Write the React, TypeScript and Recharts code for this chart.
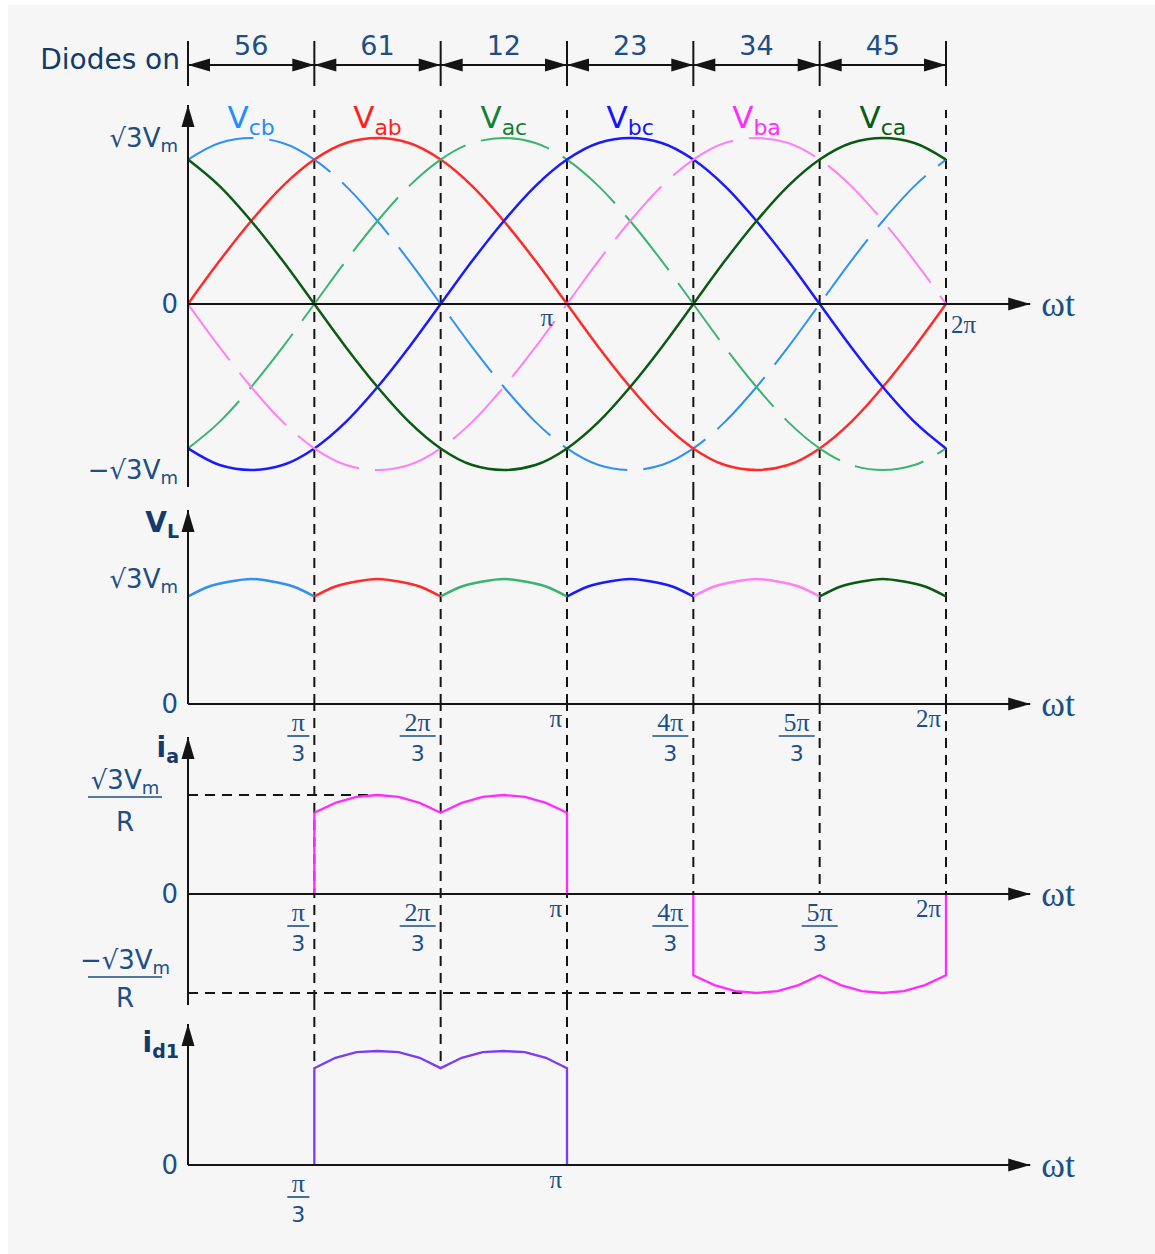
import React from 'react';
import { LineChart, Line, XAxis, YAxis, ReferenceLine, ReferenceDot } from 'recharts';

const W = 1155;
const H = 1254;
const PLOT_LEFT = 188;
const PLOT_RIGHT = 946;
const AXIS_W = 100;
const AXIS_END = 400; // arrow tip of the ωt axes, in degrees

const NAVY = '#1b4f86';
const DARK_NAVY = '#123a6c';
const INK = '#141414';
const SANS = '"DejaVu Sans", Verdana, sans-serif';
const SERIF = '"Liberation Serif", "DejaVu Serif", serif';

// conduction intervals (degrees of ωt) and the diode pair on in each
const intervalEdges = [0, 60, 120, 180, 240, 300, 360];
const diodePairs = ['56', '61', '12', '23', '34', '45'];

// line voltages, per unit of √3Vm, read every 15°
const phaseAngles = [0, 15, 30, 45, 60, 75, 90, 105, 120, 135, 150, 165, 180, 195, 210, 225, 240, 255, 270, 285, 300, 315, 330, 345, 360];
const vCb = [0.87, 0.97, 1, 0.97, 0.87, 0.71, 0.5, 0.26, 0, -0.26, -0.5, -0.71, -0.87, -0.97, -1, -0.97, -0.87, -0.71, -0.5, -0.26, 0, 0.26, 0.5, 0.71, 0.87];
const vAb = [0, 0.26, 0.5, 0.71, 0.87, 0.97, 1, 0.97, 0.87, 0.71, 0.5, 0.26, 0, -0.26, -0.5, -0.71, -0.87, -0.97, -1, -0.97, -0.87, -0.71, -0.5, -0.26, 0];
const vAc = [-0.87, -0.71, -0.5, -0.26, 0, 0.26, 0.5, 0.71, 0.87, 0.97, 1, 0.97, 0.87, 0.71, 0.5, 0.26, 0, -0.26, -0.5, -0.71, -0.87, -0.97, -1, -0.97, -0.87];
const vBc = [-0.87, -0.97, -1, -0.97, -0.87, -0.71, -0.5, -0.26, 0, 0.26, 0.5, 0.71, 0.87, 0.97, 1, 0.97, 0.87, 0.71, 0.5, 0.26, 0, -0.26, -0.5, -0.71, -0.87];
const vBa = [0, -0.26, -0.5, -0.71, -0.87, -0.97, -1, -0.97, -0.87, -0.71, -0.5, -0.26, 0, 0.26, 0.5, 0.71, 0.87, 0.97, 1, 0.97, 0.87, 0.71, 0.5, 0.26, 0];
const vCa = [0.87, 0.71, 0.5, 0.26, 0, -0.26, -0.5, -0.71, -0.87, -0.97, -1, -0.97, -0.87, -0.71, -0.5, -0.26, 0, 0.26, 0.5, 0.71, 0.87, 0.97, 1, 0.97, 0.87];
const voltageKeys = ['cb', 'ab', 'ac', 'bc', 'ba', 'ca'];
const voltageSeries = [vCb, vAb, vAc, vBc, vBa, vCa];
const voltagePeakAngles = [30, 90, 150, 210, 270, 330];

// load voltage vL, per unit of √3Vm, every 10°
const loadAngles = [0, 10, 20, 30, 40, 50, 60, 70, 80, 90, 100, 110, 120, 130, 140, 150, 160, 170, 180, 190, 200, 210, 220, 230, 240, 250, 260, 270, 280, 290, 300, 310, 320, 330, 340, 350, 360];
const loadValues = [
  0.86, 0.94, 0.98, 1, 0.98, 0.94,
  0.86, 0.94, 0.98, 1, 0.98, 0.94,
  0.86, 0.94, 0.98, 1, 0.98, 0.94,
  0.86, 0.94, 0.98, 1, 0.98, 0.94,
  0.86, 0.94, 0.98, 1, 0.98, 0.94,
  0.86, 0.94, 0.98, 1, 0.98, 0.94,
  0.86,
];

// phase current ia, per unit of √3Vm/R
const iaAngles = [60, 60, 70, 80, 90, 100, 110, 120, 130, 140, 150, 160, 170, 180, 180, 210, 240, 240, 250, 260, 270, 280, 290, 300, 310, 320, 330, 340, 350, 360, 360];
const iaValues = [0, 0.82, 0.92, 0.98, 1, 0.98, 0.92, 0.82, 0.92, 0.98, 1, 0.98, 0.92, 0.82, 0, null, 0, -0.82, -0.92, -0.98, -1, -0.98, -0.92, -0.82, -0.92, -0.98, -1, -0.98, -0.92, -0.82, 0];

// diode 1 current
const id1Angles = [60, 60, 70, 80, 90, 100, 110, 120, 130, 140, 150, 160, 170, 180, 180];
const id1Values = [0, 0.85, 0.94, 0.99, 1, 0.99, 0.94, 0.85, 0.94, 0.99, 1, 0.99, 0.94, 0.85, 0];

const piAngles = [60, 120, 180, 240, 300, 360];
const piLabels = ['π/3', '2π/3', 'π', '4π/3', '5π/3', '2π'];

// styles
const voltageColors = ['#2f90f5', '#ff2a2a', '#3cb371', '#1a1aff', '#ff80f0', '#0b5a14'];
const voltageLabelColors = ['#1e8fff', '#ff1f1f', '#16803a', '#1414ff', '#ff2cff', '#0b5a14'];
const voltageDashed = [true, false, true, false, true, false];
const IA_COLOR = '#ff2bff';
const ID1_COLOR = '#7a3cf6';

const voltageTable = phaseAngles.map((deg, i) => {
  const row: Record<string, number> = { deg };
  voltageKeys.forEach((k, j) => {
    row[k] = voltageSeries[j][i];
  });
  return row;
});
const loadSegments = diodePairs.map((_, i) =>
  loadAngles
    .map((deg, j) => ({ deg, v: loadValues[j] }))
    .filter((p) => p.deg >= intervalEdges[i] && p.deg <= intervalEdges[i + 1])
);
const iaData = iaAngles.map((deg, i) => ({ deg, v: iaValues[i] }));
const id1Data = id1Angles.map((deg, i) => ({ deg, v: id1Values[i] }));

type Frame = { zero: number; unit: number; top: number; bottom: number; axisTop: number; axisBottom: number };

// pixel placement of each panel: zero line, px per unit, slice of the page
const vFrame: Frame = { zero: 304, unit: 166, top: 110, bottom: 492, axisTop: 105, axisBottom: 487 };
const vlFrame: Frame = { zero: 704, unit: 125, top: 492, bottom: 704, axisTop: 510, axisBottom: 704 };
const iaFrame: Frame = { zero: 894, unit: 99, top: 704, bottom: 1000, axisTop: 737, axisBottom: 1005 };
const idFrame: Frame = { zero: 1165, unit: 114, top: 1000, bottom: 1165, axisTop: 1024, axisBottom: 1165 };
// header row, drawn in the line-voltage panel
const HEAD_TOP = 41;
const HEAD_BOTTOM = 86;
const HEAD_ARROW = 65;

const val = (f: Frame, px: number) => (f.zero - px) / f.unit;

const head = (x: number, y: number, ux: number, uy: number, len = 22, half = 6.5) => {
  const bx = x - ux * len;
  const by = y - uy * len;
  return `${x},${y} ${bx - uy * half},${by + ux * half} ${bx + uy * half},${by - ux * half}`;
};

const arrow = (double: boolean) => (p: any) => {
  const { x1, y1, x2, y2 } = p;
  const len = Math.hypot(x2 - x1, y2 - y1) || 1;
  const ux = (x2 - x1) / len;
  const uy = (y2 - y1) / len;
  return (
    <g>
      <line x1={x1} y1={y1} x2={x2} y2={y2} stroke={INK} strokeWidth={2} />
      <polygon points={head(x2, y2, ux, uy)} fill={INK} />
      {double && <polygon points={head(x1, y1, -ux, -uy)} fill={INK} />}
    </g>
  );
};

const at = (draw: (cx: number, cy: number) => React.ReactNode) => (p: any) => <g>{draw(p.cx, p.cy)}</g>;

const SubText = ({ x, y, main, sub, size, subSize, fill, anchor = 'end', weight = 400 }: any) => (
  <text x={x} y={y} fill={fill} fontSize={size} fontFamily={SANS} fontWeight={weight} textAnchor={anchor}>
    {main}
    <tspan fontSize={subSize} dy={subSize * 0.3}>
      {sub}
    </tspan>
  </text>
);

const piTick = (label: string, centered = false) =>
  at((cx, cy) => {
    const [num, den] = label.split('/');
    if (!den) {
      return (
        <text x={cx - 5} y={cy + 23} textAnchor="end" fontFamily={SERIF} fontSize={25} fill={NAVY}>
          {num}
        </text>
      );
    }
    const half = num.length > 1 ? 18 : 11;
    const mx = centered ? cx : cx - 5 - half;
    return (
      <g>
        <text x={mx} y={cy + 27} textAnchor="middle" fontFamily={SERIF} fontSize={26} fill={NAVY}>
          {num}
        </text>
        <line x1={mx - half} x2={mx + half} y1={cy + 32} y2={cy + 32} stroke={NAVY} strokeWidth={1.6} />
        <text x={mx} y={cy + 57} textAnchor="middle" fontFamily={SANS} fontSize={22} fill={NAVY}>
          {den}
        </text>
      </g>
    );
  });

const yTickRenderer = (values: number[], labels: string[]) => (props: any) => {
  const { x, y, payload } = props;
  const label = labels[values.indexOf(payload.value)];
  if (label === undefined) return <g />;
  if (label === '0') {
    return (
      <text x={x} y={y + 9} textAnchor="end" fontFamily={SANS} fontSize={26} fill={NAVY}>
        0
      </text>
    );
  }
  if (label.endsWith('/R')) {
    const num = label.replace('/R', '');
    const neg = num.startsWith('−');
    const mx = x - 53;
    const ny = neg ? y - 24 : y - 6;
    const by = neg ? y - 16 : y + 2;
    const ry = neg ? y + 14 : y + 36;
    return (
      <g>
        <SubText x={mx} y={ny} main={num.slice(0, -1)} sub="m" size={26} subSize={18} fill={NAVY} anchor="middle" />
        <line x1={mx - 37} x2={mx + 37} y1={by} y2={by} stroke={NAVY} strokeWidth={1.6} />
        <text x={mx} y={ry} textAnchor="middle" fontFamily={SANS} fontSize={26} fill={NAVY}>
          R
        </text>
      </g>
    );
  }
  return <SubText x={x} y={y + 9} main={label.slice(0, -1)} sub="m" size={26} subSize={18} fill={NAVY} />;
};

const guideStyle = { stroke: INK, strokeWidth: 2, strokeDasharray: '10 7' };

const guides = (f: Frame, angles: number[], key: string, to?: number) =>
  angles.map((a) =>
    to === undefined ? (
      <ReferenceLine key={`${key}-g${a}`} x={a} {...guideStyle} ifOverflow="visible" />
    ) : (
      <ReferenceLine
        key={`${key}-g${a}`}
        segment={[{ x: a, y: val(f, f.top) }, { x: a, y: to }]}
        {...guideStyle}
        ifOverflow="visible"
      />
    )
  );

const axes = (f: Frame, key: string) => [
  <ReferenceLine
    key={`${key}-y`}
    segment={[{ x: 0, y: val(f, f.axisBottom) }, { x: 0, y: val(f, f.axisTop) }]}
    ifOverflow="visible"
    shape={arrow(false)}
  />,
  <ReferenceLine
    key={`${key}-x`}
    segment={[{ x: 0, y: 0 }, { x: AXIS_END, y: 0 }]}
    ifOverflow="visible"
    shape={arrow(false)}
  />,
  <ReferenceDot
    key={`${key}-wt`}
    x={AXIS_END}
    y={0}
    ifOverflow="visible"
    shape={at((cx, cy) => (
      <text x={cx + 11} y={cy + 12} fontFamily={SERIF} fontSize={36} fill={NAVY}>
        ωt
      </text>
    ))}
  />,
];

const title = (f: Frame, key: string, main: string, sub: string, dy: number) => (
  <ReferenceDot
    key={`${key}-title`}
    x={0}
    y={val(f, f.axisTop)}
    ifOverflow="visible"
    shape={at((cx, cy) => (
      <SubText x={cx - 9} y={cy + dy} main={main} sub={sub} size={28} subSize={19} fill={DARK_NAVY} weight={700} />
    ))}
  />
);

function Panel({ frame, data, yTicks, yLabels, children }: any) {
  const margin = {
    top: frame.top,
    bottom: H - frame.bottom,
    left: PLOT_LEFT - AXIS_W,
    right: W - PLOT_RIGHT,
  };
  const domain: [number, number] = [val(frame, frame.bottom), val(frame, frame.top)];
  return (
    <div style={{ position: 'absolute', left: 0, top: 0 }}>
      <LineChart width={W} height={H} margin={margin} data={data}>
        <XAxis type="number" dataKey="deg" domain={[0, 360]} hide />
        <YAxis
          type="number"
          domain={domain}
          ticks={yTicks}
          tick={yTickRenderer(yTicks, yLabels)}
          width={AXIS_W}
          axisLine={false}
          tickLine={false}
          tickSize={0}
          tickMargin={10}
          interval={0}
        />
        {children}
      </LineChart>
    </div>
  );
}

const App: React.FC = () => {
  const headArrowY = val(vFrame, HEAD_ARROW);
  return (
    <div style={{ position: 'absolute', left: 0, top: 0, width: W, height: H, background: '#fff', overflow: 'hidden' }}>
      <div style={{ position: 'absolute', left: 8, top: 5, width: W - 8, height: H - 5, background: '#f6f6f6' }} />

      {/* line voltages, with the diodes-on header above */}
      <Panel frame={vFrame} data={voltageTable} yTicks={[1, 0, -1]} yLabels={['√3Vm', '0', '−√3Vm']}>
        {intervalEdges.map((e) => (
          <ReferenceLine
            key={`t${e}`}
            segment={[{ x: e, y: val(vFrame, HEAD_BOTTOM) }, { x: e, y: val(vFrame, HEAD_TOP) }]}
            stroke={INK}
            strokeWidth={2}
            ifOverflow="visible"
          />
        ))}
        {diodePairs.map((d, i) => (
          <ReferenceLine
            key={`a${d}`}
            segment={[{ x: intervalEdges[i], y: headArrowY }, { x: intervalEdges[i + 1], y: headArrowY }]}
            ifOverflow="visible"
            shape={arrow(true)}
          />
        ))}
        {diodePairs.map((d, i) => (
          <ReferenceDot
            key={`l${d}`}
            x={(intervalEdges[i] + intervalEdges[i + 1]) / 2}
            y={headArrowY}
            ifOverflow="visible"
            shape={at((cx, cy) => (
              <text x={cx} y={cy - 10} textAnchor="middle" fontFamily={SANS} fontSize={27} fill={NAVY}>
                {d}
              </text>
            ))}
          />
        ))}
        <ReferenceDot
          x={0}
          y={headArrowY}
          ifOverflow="visible"
          shape={at((cx, cy) => (
            <text x={cx - 8} y={cy + 4} textAnchor="end" fontFamily={SANS} fontSize={28} fill={DARK_NAVY}>
              Diodes on
            </text>
          ))}
        />
        {guides(vFrame, piAngles, 'v')}
        {voltageKeys.map((k, i) => (
          <Line
            key={k}
            type="monotone"
            dataKey={k}
            stroke={voltageColors[i]}
            strokeWidth={voltageDashed[i] ? 2 : 2.5}
            strokeDasharray={voltageDashed[i] ? '70 16' : undefined}
            dot={false}
            activeDot={false}
            isAnimationActive={false}
          />
        ))}
        {voltageKeys.map((k, i) => (
          <ReferenceDot
            key={`vl-${k}`}
            x={voltagePeakAngles[i]}
            y={1}
            ifOverflow="visible"
            shape={at((cx, cy) => (
              <SubText x={cx} y={cy - 10} main="V" sub={k} size={31} subSize={22} fill={voltageLabelColors[i]} anchor="middle" />
            ))}
          />
        ))}
        {axes(vFrame, 'v')}
        <ReferenceDot
          x={180}
          y={0}
          ifOverflow="visible"
          shape={at((cx, cy) => (
            <text x={cx - 14} y={cy + 22} textAnchor="end" fontFamily={SERIF} fontSize={25} fill={NAVY}>
              π
            </text>
          ))}
        />
        <ReferenceDot
          x={360}
          y={0}
          ifOverflow="visible"
          shape={at((cx, cy) => (
            <text x={cx + 5} y={cy + 29} fontFamily={SERIF} fontSize={25} fill={NAVY}>
              2π
            </text>
          ))}
        />
      </Panel>

      {/* load voltage */}
      <Panel frame={vlFrame} yTicks={[1, 0]} yLabels={['√3Vm', '0']}>
        {guides(vlFrame, piAngles, 'vl')}
        {loadSegments.map((seg, i) => (
          <Line
            key={`seg${i}`}
            data={seg}
            type="monotone"
            dataKey="v"
            stroke={voltageColors[i]}
            strokeWidth={2.5}
            dot={false}
            activeDot={false}
            isAnimationActive={false}
          />
        ))}
        {axes(vlFrame, 'vl')}
        {title(vlFrame, 'vl', 'V', 'L', 22)}
        {piAngles.map((a, i) => (
          <ReferenceDot key={`vlt${a}`} x={a} y={0} ifOverflow="visible" shape={piTick(piLabels[i])} />
        ))}
      </Panel>

      {/* phase current */}
      <Panel frame={iaFrame} yTicks={[1, 0, -1]} yLabels={['√3Vm/R', '0', '−√3Vm/R']}>
        {guides(iaFrame, [60, 120, 180], 'ia')}
        {guides(iaFrame, [240, 300, 360], 'ia2', 0)}
        <ReferenceLine segment={[{ x: 0, y: 1 }, { x: 89, y: 1 }]} {...guideStyle} ifOverflow="visible" />
        <ReferenceLine segment={[{ x: 0, y: -1 }, { x: 265, y: -1 }]} {...guideStyle} ifOverflow="visible" />
        <Line
          data={iaData}
          type="linear"
          dataKey="v"
          stroke={IA_COLOR}
          strokeWidth={2.3}
          dot={false}
          activeDot={false}
          connectNulls={false}
          isAnimationActive={false}
        />
        {axes(iaFrame, 'ia')}
        {title(iaFrame, 'ia', 'i', 'a', 20)}
        {piAngles.map((a, i) => (
          <ReferenceDot key={`iat${a}`} x={a} y={0} ifOverflow="visible" shape={piTick(piLabels[i], a === 300)} />
        ))}
      </Panel>

      {/* diode current */}
      <Panel frame={idFrame} yTicks={[0]} yLabels={['0']}>
        {guides(idFrame, [60, 120, 180], 'id', 0.85)}
        <Line
          data={id1Data}
          type="linear"
          dataKey="v"
          stroke={ID1_COLOR}
          strokeWidth={2.3}
          dot={false}
          activeDot={false}
          isAnimationActive={false}
        />
        {axes(idFrame, 'id')}
        {title(idFrame, 'id', 'i', 'd1', 28)}
        <ReferenceDot x={60} y={0} ifOverflow="visible" shape={piTick('π/3')} />
        <ReferenceDot x={180} y={0} ifOverflow="visible" shape={piTick('π')} />
      </Panel>
    </div>
  );
};

export default App;
